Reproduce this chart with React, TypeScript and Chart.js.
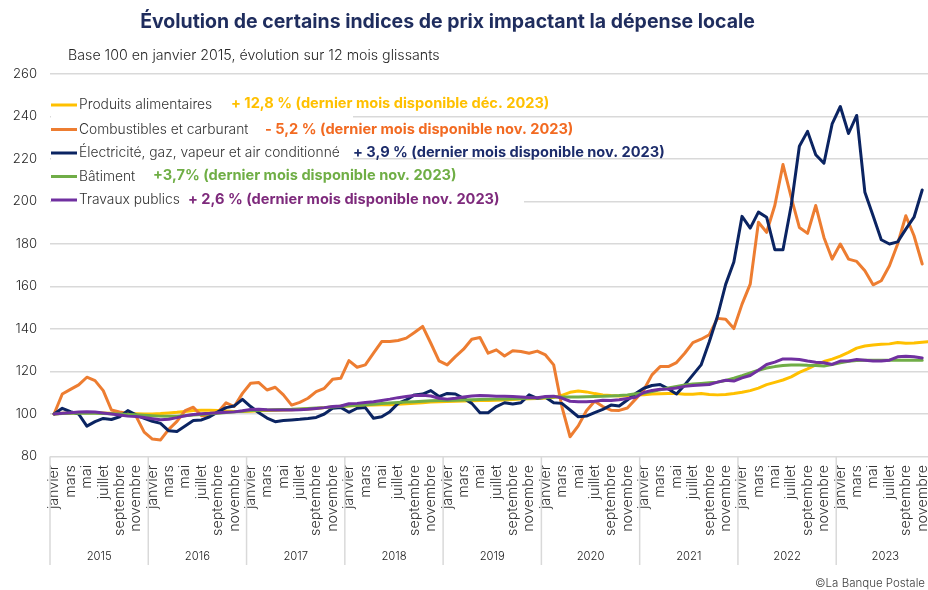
import React, { useEffect, useRef } from 'react';
import { Chart, registerables } from 'chart.js';

Chart.register(...registerables);

// ---------- DATA ----------
const YEARS = [2015, 2016, 2017, 2018, 2019, 2020, 2021, 2022, 2023];
const MONTHS = ['janvier', 'février', 'mars', 'avril', 'mai', 'juin', 'juillet', 'août', 'septembre', 'octobre', 'novembre', 'décembre'];
const SHOWN_MONTHS = ['janvier', 'mars', 'mai', 'juillet', 'septembre', 'novembre'];
const CATEGORIES = YEARS.flatMap((y) => MONTHS.map((m) => `${m} ${y}`));
const Y_MIN = 80;
const Y_MAX = 260;
const Y_STEP = 20;

const TITLE = 'Évolution de certains indices de prix impactant la dépense locale';
const SUBTITLE = 'Base 100 en janvier 2015, évolution sur 12 mois glissants';
const SOURCE = '©La Banque Postale';

const SERIES_NAMES = [
  'Produits alimentaires',
  'Combustibles et carburant',
  'Électricité, gaz, vapeur et air conditionné',
  'Bâtiment',
  'Travaux publics',
];
const SERIES_NOTES = [
  '+ 12,8 % (dernier mois disponible déc. 2023)',
  '- 5,2 % (dernier mois disponible nov. 2023)',
  '+ 3,9 % (dernier mois disponible nov. 2023)',
  '+3,7% (dernier mois disponible nov. 2023)',
  '+ 2,6 % (dernier mois disponible nov. 2023)',
];

const PRODUITS_ALIMENTAIRES = [
  100, 100.3, 100.5, 100.6, 100.7, 100.6, 100.5, 100.4, 100.3, 100.2, 100.1, 100,
  100, 100.2, 100.5, 100.8, 101.2, 101.6, 101.8, 101.8, 101.6, 101.4, 101.2, 101.2,
  101.3, 101.5, 101.7, 101.8, 101.9, 102, 102.2, 102.4, 102.6, 103, 103.3, 103.6,
  103.8, 104, 104.1, 104.2, 104.3, 104.4, 104.6, 104.8, 105, 105.3, 105.6, 105.8,
  105.9, 106, 106.1, 106.2, 106.3, 106.4, 106.5, 106.6, 106.8, 107, 107.2, 107.3,
  107.5, 107.8, 108.8, 110.2, 110.8, 110.4, 109.6, 109, 108.7, 108.5, 108.7, 108.9,
  109.1, 109.4, 109.5, 109.6, 109.6, 109.3, 109.3, 109.6, 109.2, 109, 109.2, 109.6,
  110.2, 111, 112.2, 113.8, 114.9, 116, 117.5, 119.6, 121.2, 123.1, 124.7, 125.8,
  127.2, 129, 131, 132, 132.5, 132.8, 133, 133.6, 133.3, 133.4, 133.8, 134.1,
];

const COMBUSTIBLES = [
  100, 109.4, 111.6, 113.7, 117.3, 115.7, 111, 101.9, 101, 100.3, 99, 91.5,
  88.2, 87.8, 92.8, 96.5, 101.6, 103.2, 99.2, 99.5, 100.8, 105.3, 103.5, 109.7,
  114.5, 114.8, 111.3, 112.6, 109, 104.2, 105.5, 107.4, 110.5, 112.1, 116.3, 116.8,
  125.1, 122, 123.1, 128.6, 134.1, 134.1, 134.6, 135.7, 138.4, 141.2, 133.3, 125,
  123.1, 127, 130.5, 135.2, 136, 128.6, 130.2, 127.3, 129.8, 129.4, 128.6, 129.6,
  127.8, 123.1, 103.5, 89.3, 94.4, 101.5, 106, 103.5, 101.8, 101.7, 102.8, 107,
  111.3, 118.4, 122.3, 122.3, 124.2, 128.6, 133.6, 135.2, 137.3, 145, 144.6, 140.2,
  151.7, 161.1, 190.2, 185.5, 198.1, 217.4, 202, 187.8, 185, 198.1, 183.1, 172.9,
  180, 172.9, 171.8, 167.4, 160.8, 162.7, 169.8, 180, 193.3, 183.9, 170.6, null,
];

const ELECTRICITE = [
  100, 102.7, 101.1, 100, 94.3, 96.4, 97.9, 97.4, 98.7, 101.6, 99.6, 98,
  96.6, 95.6, 92.1, 91.8, 94.3, 96.9, 97.2, 98.7, 101, 103, 103.8, 106.9,
  103.5, 100.6, 98.1, 96.4, 96.9, 97.2, 97.5, 97.9, 98.4, 100, 102.7, 103.1,
  100.8, 102.7, 103, 98, 98.7, 101.1, 105, 106.6, 109, 109.4, 111, 108.2,
  109.7, 109.4, 107.4, 105, 100.6, 100.6, 103.5, 105.3, 104.7, 105.3, 109, 107.4,
  107.9, 105.3, 105, 101.9, 98.7, 99, 100.6, 102.2, 104.2, 103.8, 106.6, 109.6,
  112.1, 113.4, 113.9, 111.8, 109.4, 113.7, 118.4, 123.1, 134, 146, 161, 171.5,
  193, 187.5, 195, 192.6, 177.3, 177.3, 198, 226, 233, 222, 218, 236.5,
  244.7, 232, 240.5, 204.3, 193.3, 182, 180, 181, 187, 192.6, 205.4, null,
];

const BATIMENT = [
  100, 100.2, 100.3, 100.4, 100.4, 100.3, 100.2, 100.1, 100, 99.8, 99.6, 99.4,
  99.2, 99, 98.9, 99, 99.2, 99.5, 99.8, 100.1, 100.4, 100.7, 101, 101.3,
  101.6, 101.8, 101.9, 102, 102.1, 102.2, 102.4, 102.6, 102.8, 103, 103.3, 103.6,
  103.9, 104.1, 104.3, 104.6, 104.9, 105.2, 105.4, 105.6, 105.8, 106, 106.2, 106.3,
  106.4, 106.5, 106.6, 106.7, 106.8, 106.9, 107, 107.1, 107.2, 107.3, 107.4, 107.5,
  107.8, 108, 108, 108, 108, 108.1, 108.2, 108.3, 108.5, 108.7, 109, 109.5,
  109.8, 110.6, 111.4, 112.2, 113, 113.6, 114.1, 114.4, 114.7, 115, 115.8, 116.8,
  118, 119.3, 120.6, 121.6, 122.3, 122.8, 123.1, 123.1, 122.9, 122.8, 122.6, 123.3,
  124.1, 124.8, 125.2, 125.3, 125.3, 125.3, 125.3, 125.3, 125.3, 125.3, 125.3, null,
];

const TRAVAUX_PUBLICS = [
  100, 100.3, 100.6, 100.9, 101.1, 100.9, 100.5, 100, 99.5, 99, 98.8, 98.3,
  97.8, 97.3, 97.5, 98.3, 99.2, 99.8, 100.1, 100.3, 100.6, 100.8, 101, 101.5,
  102.1, 102.2, 102, 101.9, 101.9, 101.9, 102, 102.2, 102.6, 103, 103.5, 103.8,
  104.8, 105, 105.4, 105.8, 106.4, 107, 107.7, 108.2, 108.7, 108.8, 108.5, 107.4,
  107, 107.4, 108, 108.5, 108.7, 108.6, 108.4, 108.3, 108.2, 108, 107.8, 107.7,
  108.2, 108.4, 107.5, 106, 105.8, 105.8, 106, 106.5, 106.3, 106.7, 107.3, 107.9,
  110.1, 111.1, 111.6, 111.8, 112.2, 113, 113.4, 113.7, 113.9, 115, 115.9, 115.5,
  117, 118.1, 120.6, 123.3, 124.4, 125.9, 125.9, 125.6, 124.9, 124.4, 124.1, 123.3,
  124.9, 124.9, 125.6, 125.3, 124.9, 124.9, 125.3, 126.9, 127.2, 126.9, 126.4, null,
];

const SERIES_VALUES = [PRODUITS_ALIMENTAIRES, COMBUSTIBLES, ELECTRICITE, BATIMENT, TRAVAUX_PUBLICS];

// ---------- STYLE ----------
const LINE_COLORS = ['#FFC000', '#ED7D31', '#0B2462', '#70AD47', '#7030A0'];
const NOTE_COLORS = ['#FFC000', '#F26A21', '#1C2C6B', '#6FAE45', '#7E2A7C'];
const FONT = "Inter, 'Noto Sans', 'DejaVu Sans', sans-serif";
const LIGHT = '300';
const CANVAS_W = 945;
const CANVAS_H = 590;
const AREA = { left: 50, right: 934.5, top: 74, bottom: 456.5 };

const measureCtx = (() => {
  const c = document.createElement('canvas');
  return c.getContext('2d') as CanvasRenderingContext2D;
})();

function fitSize(text: string, weight: string, target: number): number {
  measureCtx.font = `${weight} 100px ${FONT}`;
  const w = measureCtx.measureText(text).width;
  return (100 * target) / w;
}

const TICK_SIZE = fitSize('260', LIGHT, 24);

const overlayPlugin = {
  id: 'overlay',
  beforeDatasetsDraw(chart: any) {
    const ctx = chart.ctx as CanvasRenderingContext2D;
    ctx.save();
    // legend background boxes (hide gridlines behind the legend)
    ctx.fillStyle = '#ffffff';
    ctx.fillRect(AREA.left + 1, 90, 302, 100);
    ctx.fillRect(AREA.left + 1, 190, 473, 20);

    const nameSize = fitSize(SERIES_NAMES[2], LIGHT, 261);
    const noteSize = fitSize(SERIES_NOTES[2], '700', 312);
    const noteX = [231, 265, 353, 153, 188];
    const noteY = [104, 130, 152.5, 176, 199.5];
    const rowY = [105, 129.5, 153, 176.5, 200];
    ctx.textBaseline = 'middle';
    ctx.textAlign = 'left';
    for (let i = 0; i < SERIES_NAMES.length; i++) {
      ctx.strokeStyle = LINE_COLORS[i];
      ctx.lineWidth = 3;
      ctx.beginPath();
      ctx.moveTo(51, rowY[i]);
      ctx.lineTo(77, rowY[i]);
      ctx.stroke();
      ctx.fillStyle = '#333333';
      ctx.font = `${LIGHT} ${nameSize}px ${FONT}`;
      ctx.fillText(SERIES_NAMES[i], 79, rowY[i]);
      ctx.fillStyle = NOTE_COLORS[i];
      ctx.font = `700 ${noteSize}px ${FONT}`;
      ctx.fillText(SERIES_NOTES[i], noteX[i], noteY[i]);
    }
    ctx.restore();
  },
  afterDraw(chart: any) {
    const ctx = chart.ctx as CanvasRenderingContext2D;
    const xs = chart.scales.x;
    const area = chart.chartArea;
    ctx.save();

    // title
    ctx.fillStyle = '#1F2D5E';
    ctx.textAlign = 'center';
    ctx.textBaseline = 'middle';
    ctx.font = `700 ${fitSize(TITLE, '700', 615)}px ${FONT}`;
    ctx.fillText(TITLE, 447.5, 22);

    // subtitle
    ctx.fillStyle = '#262626';
    ctx.textAlign = 'left';
    ctx.font = `${LIGHT} ${fitSize(SUBTITLE, LIGHT, 372)}px ${FONT}`;
    ctx.fillText(SUBTITLE, 68, 56);

    // month labels
    const step = xs.getPixelForValue(1) - xs.getPixelForValue(0);
    const monthSize = fitSize('septembre', LIGHT, 71);
    ctx.font = `${LIGHT} ${monthSize}px ${FONT}`;
    ctx.fillStyle = '#333333';
    ctx.textAlign = 'right';
    ctx.textBaseline = 'middle';
    CATEGORIES.forEach((_, k) => {
      const m = MONTHS[k % 12];
      if (!SHOWN_MONTHS.includes(m)) return;
      const x = xs.getPixelForValue(k);
      ctx.save();
      ctx.translate(x, 465);
      ctx.rotate(-Math.PI / 2);
      ctx.fillText(m, 0, 0);
      ctx.restore();
    });

    // year separators and labels
    ctx.strokeStyle = '#d9d9d9';
    ctx.lineWidth = 1.5;
    for (let i = 0; i <= YEARS.length; i++) {
      const x = xs.getPixelForValue(i * 12) - step / 2;
      ctx.beginPath();
      ctx.moveTo(x, area.bottom);
      ctx.lineTo(x, 565);
      ctx.stroke();
    }
    ctx.font = `${LIGHT} ${fitSize('2015', LIGHT, 25)}px ${FONT}`;
    ctx.fillStyle = '#1a1a1a';
    ctx.textAlign = 'center';
    YEARS.forEach((y, i) => {
      const x = (xs.getPixelForValue(i * 12) + xs.getPixelForValue(i * 12 + 11)) / 2;
      ctx.fillText(String(y), x, 557);
    });

    // source
    ctx.font = `${LIGHT} ${fitSize(SOURCE, LIGHT, 110)}px ${FONT}`;
    ctx.fillStyle = '#404040';
    ctx.textAlign = 'right';
    ctx.fillText(SOURCE, 925, 584);
    ctx.restore();
  },
};

export default function App() {
  const canvasRef = useRef<HTMLCanvasElement | null>(null);

  useEffect(() => {
    if (!canvasRef.current) return;
    const order = [5, 4, 3, 2, 1];
    const chart = new Chart(canvasRef.current, {
      type: 'line',
      data: {
        labels: CATEGORIES,
        datasets: SERIES_NAMES.map((name, i) => ({
          label: name,
          data: SERIES_VALUES[i],
          borderColor: LINE_COLORS[i],
          backgroundColor: LINE_COLORS[i],
          borderWidth: 3,
          pointRadius: 0,
          tension: 0,
          fill: false,
          order: order[i],
          borderJoinStyle: 'round' as const,
          borderCapStyle: 'round' as const,
        })),
      },
      options: {
        responsive: false,
        animation: false,
        devicePixelRatio: 1,
        layout: {
          padding: {
            left: 0,
            right: CANVAS_W - AREA.right,
            top: AREA.top,
            bottom: CANVAS_H - AREA.bottom,
          },
        },
        plugins: {
          legend: { display: false },
          title: { display: false },
          tooltip: { enabled: false },
        },
        scales: {
          x: {
            type: 'category',
            display: false,
            offset: true,
          },
          y: {
            min: Y_MIN,
            max: Y_MAX,
            afterFit: (s: any) => {
              s.width = AREA.left;
            },
            ticks: {
              stepSize: Y_STEP,
              color: '#262626',
              padding: 13,
              font: { family: FONT, size: TICK_SIZE, weight: LIGHT as any },
            },
            grid: {
              color: '#d9d9d9',
              lineWidth: 1.5,
              drawTicks: false,
            },
            border: { display: false },
          },
        },
      },
      plugins: [overlayPlugin],
    });
    return () => chart.destroy();
  }, []);

  return (
    <div style={{ position: 'absolute', left: 0, top: 0, width: 928, height: 590, overflow: 'hidden', background: '#fff' }}>
      <canvas ref={canvasRef} width={CANVAS_W} height={CANVAS_H} style={{ display: 'block' }} />
    </div>
  );
}
